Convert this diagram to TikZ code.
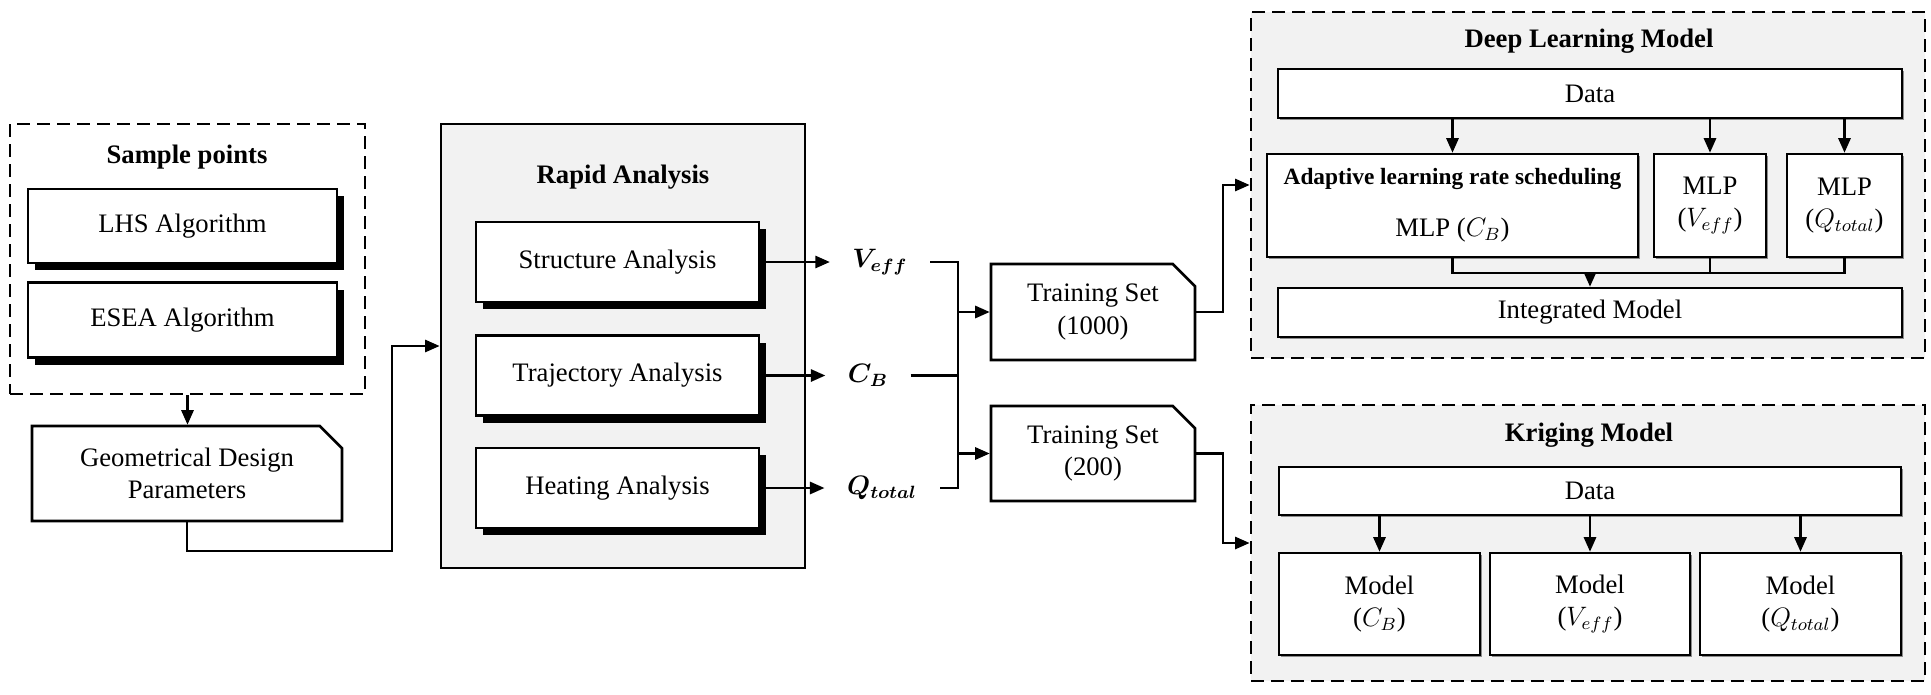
\documentclass[tikz,border=0pt]{standalone}
\usepackage{fontspec}
\usepackage{bm}
\usetikzlibrary{arrows.meta,calc,shadows,shapes.misc}
\setmainfont{Liberation Serif}
\definecolor{panelGray}{HTML}{F2F2F2}
\definecolor{shadeGray}{HTML}{8C8C8C}
\newcommand{\pxl}{0.45pt}
\tikzset{
  group/.style={draw, line width=1.3pt, dash pattern=on 6pt off 3pt, fill=panelGray},
  sbox/.style={draw, line width=1.2pt, fill=white, align=center,
    drop shadow={shadow xshift=3.3pt, shadow yshift=-3.3pt, fill=black, opacity=1}},
  mbox/.style={draw, line width=1.2pt, fill=white, align=center,
    drop shadow={shadow xshift=0.9pt, shadow yshift=-0.9pt, fill=shadeGray, opacity=1}},
  docbox/.style={chamfered rectangle, chamfered rectangle corners=north east,
    chamfered rectangle xsep=5pt, chamfered rectangle ysep=5pt,
    draw, line width=1.2pt, fill=white, align=center},
  conn/.style={line width=0.95pt, -{Triangle[length=6.5pt,width=5.5pt]}},
  wire/.style={line width=0.95pt},
  ttl/.style={font=\fontsize{12}{14.5}\selectfont\bfseries},
  lbl/.style={inner xsep=10pt}
}

\begin{document}
\begin{tikzpicture}[x=\pxl, y=-\pxl, every node/.style={font=\fontsize{12}{14.5}\selectfont}]
    \useasboundingbox (0,0) rectangle (1931,695);
    \node[group, fill=white, minimum width=355*\pxl, minimum height=270*\pxl] (sample) at (187.5,259) {};
    \node[draw, line width=1.3pt, fill=panelGray, minimum width=364*\pxl, minimum height=444*\pxl] (rapid) at (623,346) {};
    \node[group, minimum width=674*\pxl, minimum height=346*\pxl] (dlm) at (1588,185) {};
    \node[group, minimum width=674*\pxl, minimum height=276*\pxl] (krig) at (1588,543) {};
    \node[ttl] (sampleT) at (187,157) {Sample points};
    \node[ttl] (rapidT) at (623,177) {Rapid Analysis};
    \node[ttl] (dlmT) at (1589,41) {Deep Learning Model};
    \node[ttl] (krigT) at (1589,435) {Kriging Model};
    \node[sbox, minimum width=309*\pxl, minimum height=74*\pxl] (lhs) at (182.5,226) {LHS Algorithm};
    \node[sbox, minimum width=309*\pxl, minimum height=75*\pxl] (esea) at (182.5,320) {ESEA Algorithm};
    \node[docbox, minimum width=310*\pxl, minimum height=95*\pxl] (geom) at (187,473.5) {Geometrical Design\\Parameters};
    \node[sbox, minimum width=283*\pxl, minimum height=80*\pxl] (struct) at (617.5,262) {Structure Analysis};
    \node[sbox, minimum width=283*\pxl, minimum height=80*\pxl] (traj) at (617.5,375.5) {Trajectory Analysis};
    \node[sbox, minimum width=283*\pxl, minimum height=80*\pxl] (heat) at (617.5,488) {Heating Analysis};
    \node[lbl] (veff) at (880,262) {$\bm{V_{eff}}$};
    \node[lbl] (cb) at (868,375.5) {$\bm{C_B}$};
    \node[lbl] (qtot) at (882,488) {$\bm{Q_{total}}$};
    \coordinate (bus) at (958,263);
    \coordinate (tjog) at (1223,312);
    \coordinate (gjog) at (392,551);
    \coordinate (dlmerge) at (1590,273);
    \node[docbox, minimum width=204*\pxl, minimum height=96*\pxl] (tsa) at (1093,312) {Training Set\\(1000)};
    \node[docbox, minimum width=204*\pxl, minimum height=95*\pxl] (tsb) at (1093,453.5) {Training Set\\(200)};
    \node[mbox, minimum width=624*\pxl, minimum height=49*\pxl] (dldata) at (1590,93.5) {Data};
    \node[mbox, minimum width=371*\pxl, minimum height=103*\pxl] (alrs) at (1452.5,205.5) {{\fontsize{10.5}{12}\selectfont\bfseries Adaptive learning rate scheduling}\\[9pt]MLP ($C_B$)};
    \node[mbox, minimum width=112*\pxl, minimum height=103*\pxl] (mlpv) at (1710,205.5) {MLP\\($V_{eff}$)};
    \node[mbox, minimum width=115*\pxl, minimum height=103*\pxl] (mlpq) at (1844.5,205.5) {MLP\\($Q_{total}$)};
    \node[mbox, minimum width=624*\pxl, minimum height=49*\pxl] (integ) at (1590,312.5) {Integrated Model};
    \node[mbox, minimum width=622*\pxl, minimum height=48*\pxl] (kdata) at (1590,491) {Data};
    \node[mbox, minimum width=201*\pxl, minimum height=102*\pxl] (kcb) at (1379.5,604) {Model\\($C_B$)};
    \node[mbox, minimum width=200*\pxl, minimum height=102*\pxl] (kveff) at (1590,604) {Model\\($V_{eff}$)};
    \node[mbox, minimum width=201*\pxl, minimum height=102*\pxl] (kq) at (1800.5,604) {Model\\($Q_{total}$)};
    \draw[conn] (sample.south) -- (sample.south |- geom.north);
    \draw[conn] (geom.south) |- (gjog) |- (rapid.west);
    \draw[conn] (struct.east) -- (struct.east -| veff.west);
    \draw[conn] (traj.east) -- (traj.east -| cb.west);
    \draw[conn] (heat.east) -- (heat.east -| qtot.west);
    \draw[wire] (veff.east) -- (veff.east -| bus) -- (qtot.east -| bus) -- (qtot.east);
    \draw[wire] (cb.east) -- (cb.east -| bus);
    \draw[conn] (tsa.west -| bus) -- (tsa.west);
    \draw[conn] (tsb.west -| bus) -- (tsb.west);
    \draw[conn] (tsa.east) -- (tsa.east -| tjog) |- (dlm.west);
    \draw[conn] (tsb.east) -- (tsb.east -| tjog) |- (krig.west);
    \draw[conn] (dldata.south -| alrs.north) -- (alrs.north);
    \draw[conn] (dldata.south -| mlpv.north) -- (mlpv.north);
    \draw[conn] (dldata.south -| mlpq.north) -- (mlpq.north);
    \draw[wire] (alrs.south) -- (alrs.south |- dlmerge) -- (mlpq.south |- dlmerge) -- (mlpq.south);
    \draw[wire] (mlpv.south) -- (mlpv.south |- dlmerge);
    \draw[conn] (dlmerge) -- (integ.north);
    \draw[conn] (kdata.south -| kcb.north) -- (kcb.north);
    \draw[conn] (kdata.south -| kveff.north) -- (kveff.north);
    \draw[conn] (kdata.south -| kq.north) -- (kq.north);
  \end{tikzpicture}
\end{document}
